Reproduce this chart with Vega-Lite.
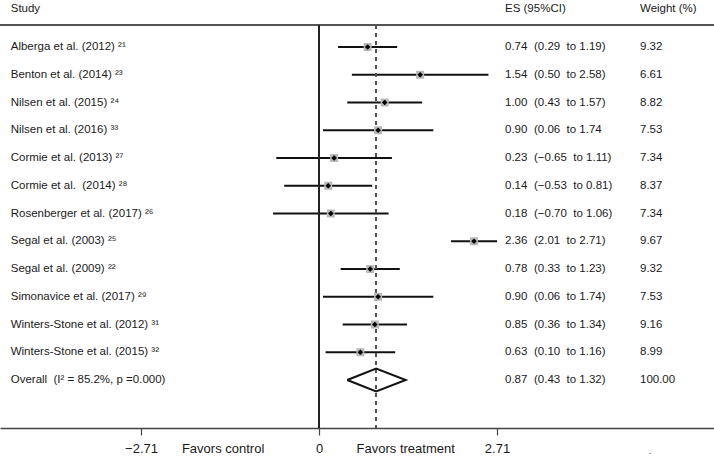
{
  "$schema": "https://vega.github.io/schema/vega-lite/v6.json",
  "width": 714,
  "height": 461,
  "padding": 0,
  "autosize": {"type": "none"},
  "background": "white",
  "config": {
    "view": {"stroke": null},
    "font": "Liberation Sans",
    "text": {"font": "Liberation Sans", "fontSize": 11.5, "color": "#1a1a1a"}
  },
  "datasets": {
    "studies": [
      {"row": 1, "study": "Alberga et al. (2012) ²¹", "es": 0.74, "lo": 0.29, "hi": 1.19, "ci": "(0.29 \u00a0to 1.19)", "weight": 9.32},
      {"row": 2, "study": "Benton et al. (2014) ²³", "es": 1.54, "lo": 0.50, "hi": 2.58, "ci": "(0.50 \u00a0to 2.58)", "weight": 6.61},
      {"row": 3, "study": "Nilsen et al. (2015) ²⁴", "es": 1.00, "lo": 0.43, "hi": 1.57, "ci": "(0.43 \u00a0to 1.57)", "weight": 8.82},
      {"row": 4, "study": "Nilsen et al. (2016) ³³", "es": 0.90, "lo": 0.06, "hi": 1.74, "ci": "(0.06 \u00a0to 1.74", "weight": 7.53},
      {"row": 5, "study": "Cormie et al. (2013) ²⁷", "es": 0.23, "lo": -0.65, "hi": 1.11, "ci": "(−0.65 \u00a0to 1.11)", "weight": 7.34},
      {"row": 6, "study": "Cormie et al. \u00a0(2014) ²⁸", "es": 0.14, "lo": -0.53, "hi": 0.81, "ci": "(−0.53 \u00a0to 0.81)", "weight": 8.37},
      {"row": 7, "study": "Rosenberger et al. (2017) ²⁶", "es": 0.18, "lo": -0.70, "hi": 1.06, "ci": "(−0.70 \u00a0to 1.06)", "weight": 7.34},
      {"row": 8, "study": "Segal et al. (2003) ²⁵", "es": 2.36, "lo": 2.01, "hi": 2.71, "ci": "(2.01 \u00a0to 2.71)", "weight": 9.67},
      {"row": 9, "study": "Segal et al. (2009) ²²", "es": 0.78, "lo": 0.33, "hi": 1.23, "ci": "(0.33 \u00a0to 1.23)", "weight": 9.32},
      {"row": 10, "study": "Simonavice et al. (2017) ²⁹", "es": 0.90, "lo": 0.06, "hi": 1.74, "ci": "(0.06 \u00a0to 1.74)", "weight": 7.53},
      {"row": 11, "study": "Winters-Stone et al. (2012) ³¹", "es": 0.85, "lo": 0.36, "hi": 1.34, "ci": "(0.36 \u00a0to 1.34)", "weight": 9.16},
      {"row": 12, "study": "Winters-Stone et al. (2015) ³²", "es": 0.63, "lo": 0.10, "hi": 1.16, "ci": "(0.10 \u00a0to 1.16)", "weight": 8.99},
      {"row": 13, "study": "Overall \u00a0(I² = 85.2%, p =0.000)", "es": 0.87, "lo": 0.43, "hi": 1.32, "ci": "(0.43 \u00a0to 1.32)", "weight": 100.00}
    ],
    "diamond": [
      {"order": 1, "x": 0.43, "y": 13},
      {"order": 2, "x": 0.87, "y": 12.586},
      {"order": 3, "x": 1.32, "y": 13},
      {"order": 4, "x": 0.87, "y": 13.414},
      {"order": 5, "x": 0.43, "y": 13}
    ]
  },
  "layer": [
    {
      "data": {"name": "studies"},
      "transform": [{"filter": "datum.row <= 12"}],
      "mark": {"type": "rule", "color": "#111", "strokeWidth": 2},
      "encoding": {
        "x": {
          "field": "lo", "type": "quantitative",
          "scale": {"domain": [-4.857, 6.014], "nice": false, "zero": false},
          "axis": {
            "values": [-2.71, 0, 2.71],
            "offset": -33,
            "grid": false,
            "title": null,
            "domainColor": "#444",
            "domainWidth": 1.3,
            "tickColor": "#444",
            "tickWidth": 1.2,
            "tickSize": 7,
            "labelFont": "Liberation Sans",
            "labelFontSize": 13,
            "labelColor": "#1a1a1a",
            "labelPadding": 7,
            "labelExpr": "datum.value < 0 ? '−' + format(-datum.value, '.2f') : (datum.value == 0 ? '0' : format(datum.value, '.2f'))"
          }
        },
        "x2": {"field": "hi"},
        "y": {
          "field": "row", "type": "quantitative",
          "scale": {"domain": [-0.694, 15.919], "nice": false, "zero": false, "reverse": true},
          "axis": null
        }
      }
    },
    {
      "data": {"name": "studies"},
      "mark": {"type": "rule", "color": "#555", "strokeWidth": 1.3},
      "encoding": {"y": {"datum": 0.207, "type": "quantitative"}}
    },
    {
      "data": {"name": "studies"},
      "mark": {"type": "rule", "color": "#222", "strokeWidth": 1},
      "encoding": {
        "x": {"datum": 0, "type": "quantitative"},
        "y": {"datum": 0.207, "type": "quantitative"},
        "y2": {"datum": 14.73}
      }
    },
    {
      "data": {"name": "studies"},
      "mark": {"type": "rule", "color": "#555", "strokeWidth": 1, "strokeDash": [4, 4]},
      "encoding": {
        "x": {"datum": 0.87, "type": "quantitative"},
        "y": {"datum": 0.207, "type": "quantitative"},
        "y2": {"datum": 14.73}
      }
    },
    {
      "data": {"name": "studies"},
      "transform": [{"filter": "datum.row <= 12"}],
      "mark": {"type": "point", "shape": "square", "filled": true, "color": "#b8b8b8", "size": 64, "opacity": 1},
      "encoding": {
        "x": {"field": "es", "type": "quantitative"},
        "y": {"field": "row", "type": "quantitative"}
      }
    },
    {
      "data": {"name": "studies"},
      "transform": [{"filter": "datum.row <= 12"}],
      "mark": {"type": "point", "shape": "diamond", "filled": true, "color": "#000", "size": 32, "opacity": 1},
      "encoding": {
        "x": {"field": "es", "type": "quantitative"},
        "y": {"field": "row", "type": "quantitative"}
      }
    },
    {
      "data": {"name": "diamond"},
      "mark": {"type": "line", "color": "#111", "strokeWidth": 2},
      "encoding": {
        "x": {"field": "x", "type": "quantitative"},
        "y": {"field": "y", "type": "quantitative"},
        "order": {"field": "order"}
      }
    },
    {
      "data": {"name": "studies"},
      "mark": {"type": "text", "align": "left", "baseline": "middle"},
      "encoding": {
        "x": {"datum": -4.694, "type": "quantitative"},
        "y": {"field": "row", "type": "quantitative"},
        "text": {"field": "study"}
      }
    },
    {
      "data": {"name": "studies"},
      "mark": {"type": "text", "align": "left", "baseline": "middle"},
      "encoding": {
        "x": {"datum": 2.832, "type": "quantitative"},
        "y": {"field": "row", "type": "quantitative"},
        "text": {"field": "es", "format": ".2f"}
      }
    },
    {
      "data": {"name": "studies"},
      "mark": {"type": "text", "align": "left", "baseline": "middle"},
      "encoding": {
        "x": {"datum": 3.273, "type": "quantitative"},
        "y": {"field": "row", "type": "quantitative"},
        "text": {"field": "ci"}
      }
    },
    {
      "data": {"name": "studies"},
      "mark": {"type": "text", "align": "left", "baseline": "middle"},
      "encoding": {
        "x": {"datum": 4.887, "type": "quantitative"},
        "y": {"field": "row", "type": "quantitative"},
        "text": {"field": "weight", "format": ".2f"}
      }
    },
    {
      "data": {"values": [{}]},
      "mark": {"type": "text", "align": "left", "baseline": "middle"},
      "encoding": {
        "x": {"datum": -4.694, "type": "quantitative"},
        "y": {"datum": -0.369, "type": "quantitative"},
        "text": {"value": "Study"}
      }
    },
    {
      "data": {"values": [{}]},
      "mark": {"type": "text", "align": "left", "baseline": "middle"},
      "encoding": {
        "x": {"datum": 2.832, "type": "quantitative"},
        "y": {"datum": -0.369, "type": "quantitative"},
        "text": {"value": "ES (95%CI)"}
      }
    },
    {
      "data": {"values": [{}]},
      "mark": {"type": "text", "align": "left", "baseline": "middle"},
      "encoding": {
        "x": {"datum": 4.887, "type": "quantitative"},
        "y": {"datum": -0.369, "type": "quantitative"},
        "text": {"value": "Weight (%)"}
      }
    },
    {
      "data": {"values": [{}]},
      "mark": {"type": "text", "align": "center", "baseline": "middle", "fontSize": 13},
      "encoding": {
        "x": {"datum": -1.46, "type": "quantitative"},
        "y": {"datum": 15.486, "type": "quantitative"},
        "text": {"value": "Favors control"}
      }
    },
    {
      "data": {"values": [{}]},
      "mark": {"type": "text", "align": "center", "baseline": "middle", "fontSize": 13},
      "encoding": {
        "x": {"datum": 1.32, "type": "quantitative"},
        "y": {"datum": 15.486, "type": "quantitative"},
        "text": {"value": "Favors treatment"}
      }
    },
    {
      "data": {"values": [{}]},
      "mark": {"type": "text", "align": "center", "baseline": "middle", "color": "#666"},
      "encoding": {
        "x": {"datum": 5.04, "type": "quantitative"},
        "y": {"datum": 15.55, "type": "quantitative"},
        "text": {"value": "."}
      }
    }
  ]
}
